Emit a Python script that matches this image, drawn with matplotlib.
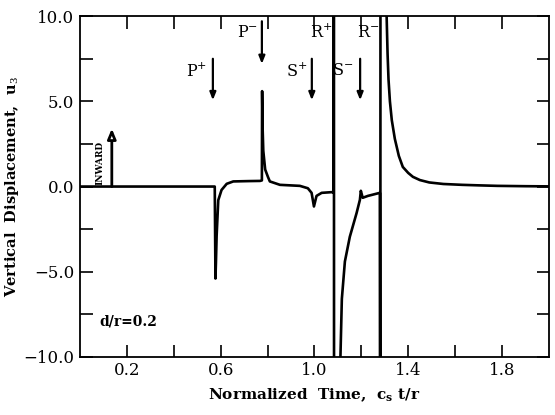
import matplotlib
matplotlib.use("Agg")
import matplotlib.pyplot as plt

# time samples (c_s t / r) and vertical displacement u_3
time = [0.0, 0.30, 0.567, 0.575, 0.578, 0.580, 0.583, 0.590, 0.604, 0.626, 0.654,
        0.720, 0.768, 0.776, 0.777, 0.779, 0.782, 0.790, 0.802, 0.810, 0.853,
        0.938, 0.972, 0.988, 0.998, 1.009, 1.031, 1.073, 1.082, 1.083, 1.084,
        1.110, 1.111, 1.117, 1.130, 1.151, 1.180, 1.194, 1.198, 1.206, 1.228,
        1.279, 1.281, 1.282, 1.300, 1.308, 1.312, 1.316, 1.322, 1.330, 1.343,
        1.360, 1.377, 1.400, 1.420, 1.450, 1.490, 1.550, 1.630, 1.700, 1.780,
        1.900, 2.0]
disp = [0.0, 0.0, 0.0, 0.0, -5.4, -4.5, -2.9, -0.8, -0.2, 0.16, 0.3,
        0.32, 0.33, 0.36, 5.6, 3.5, 2.1, 1.0, 0.56, 0.3, 0.1,
        0.04, -0.1, -0.37, -1.17, -0.55, -0.37, -0.33, -0.35, 30.0, -30.0,
        -30.0, -10.0, -6.6, -4.4, -2.95, -1.55, -0.78, -0.25, -0.66, -0.55,
        -0.37, -30.0, 30.0, 30.0, 10.0, 7.8, 6.3, 5.0, 3.9, 2.8,
        1.8, 1.15, 0.8, 0.57, 0.38, 0.24, 0.15, 0.10, 0.07, 0.04,
        0.02, 0.01]

# wave arrival labels and arrows
arrival_names = ["P$^{+}$", "P$^{-}$", "S$^{+}$", "R$^{+}$", "S$^{-}$", "R$^{-}$"]
label_t = [0.499, 0.716, 0.925, 1.028, 1.122, 1.228]
label_u = [6.8, 9.05, 6.8, 9.05, 6.8, 9.05]
arrow_t = [0.567, 0.776, 0.989, 1.195]
arrow_top = [7.5, 9.7, 7.5, 7.5]
arrow_bottom = [5.07, 7.2, 5.07, 5.07]

xticks = [0.2, 0.4, 0.6, 0.8, 1.0, 1.2, 1.4, 1.6, 1.8]
xticklabels = ["0.2", "", "0.6", "", "1.0", "", "1.4", "", "1.8"]
yticks = [-10, -7.5, -5, -2.5, 0, 2.5, 5, 7.5, 10]
yticklabels = ["\u221210.0", "", "\u22125.0", "", "0.0", "", "5.0", "", "10.0"]

plt.rcParams["font.family"] = ["DejaVu Serif"]
plt.rcParams["mathtext.fontset"] = "dejavuserif"

fig = plt.figure(figsize=(5.55, 4.15), dpi=100)
ax = fig.add_axes([0.144, 0.140, 0.845, 0.821])

ax.plot(time, disp, color="black", lw=1.9, solid_joinstyle="round")
ax.set_xlim(0.0, 2.0)
ax.set_ylim(-10, 10)

ax.set_xticks(xticks, xticklabels)
ax.set_yticks(yticks, yticklabels)
ax.tick_params(direction="in", length=9, width=1.2, top=True, right=True,
               labelsize=12, pad=4)
for spine in ax.spines.values():
    spine.set_linewidth(1.3)

ax.set_xlabel("Normalized  Time,  c$_\\mathbf{s}$ t/r", fontsize=11,
              fontweight="bold", labelpad=5)
ax.set_ylabel("Vertical  Displacement,  u$_3$", fontsize=10.5,
              fontweight="bold", labelpad=2)

for name, tx, uy in zip(arrival_names, label_t, label_u):
    ax.text(tx, uy, name, fontsize=11.5, ha="center", va="center")
for tx, top, bot in zip(arrow_t, arrow_top, arrow_bottom):
    ax.annotate("", xy=(tx, bot), xytext=(tx, top),
                arrowprops=dict(arrowstyle="-|>,head_width=0.18,head_length=0.45",
                                color="black", lw=1.6, shrinkA=0, shrinkB=0))

# inward marker
ax.annotate("", xy=(0.136, 3.4), xytext=(0.136, 0.0),
            arrowprops=dict(arrowstyle="-|>,head_width=0.25,head_length=0.6",
                            fc="white", ec="black", lw=2.0, shrinkA=0, shrinkB=0))
ax.text(0.085, 1.4, "INWARD", rotation=90, fontsize=6.5, fontweight="bold",
        ha="center", va="center")

ax.text(0.085, -7.9, "d/r=0.2", fontsize=10, fontweight="bold",
        ha="left", va="center")

fig.savefig("out.png", dpi=100)
